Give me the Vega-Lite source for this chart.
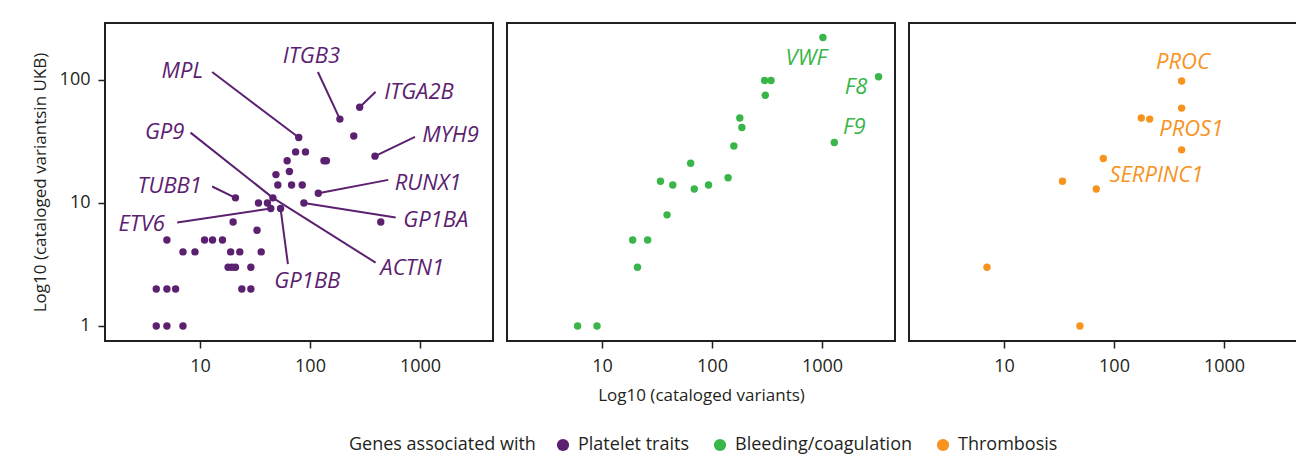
{
  "$schema": "https://vega.github.io/schema/vega-lite/v6.json",
  "padding": {"left": 30, "top": 22, "right": 3, "bottom": 5},
  "autosize": {"type": "pad"},
  "background": "white",
  "datasets": {
    "points": [
      {"group": "Platelet traits", "cat": 79, "ukb": 34},
      {"group": "Platelet traits", "cat": 187, "ukb": 48},
      {"group": "Platelet traits", "cat": 283, "ukb": 60},
      {"group": "Platelet traits", "cat": 250, "ukb": 35},
      {"group": "Platelet traits", "cat": 390, "ukb": 24},
      {"group": "Platelet traits", "cat": 74, "ukb": 26},
      {"group": "Platelet traits", "cat": 91, "ukb": 26},
      {"group": "Platelet traits", "cat": 134, "ukb": 22},
      {"group": "Platelet traits", "cat": 141, "ukb": 22},
      {"group": "Platelet traits", "cat": 62, "ukb": 22},
      {"group": "Platelet traits", "cat": 65, "ukb": 18},
      {"group": "Platelet traits", "cat": 49, "ukb": 17},
      {"group": "Platelet traits", "cat": 51, "ukb": 14},
      {"group": "Platelet traits", "cat": 68, "ukb": 14},
      {"group": "Platelet traits", "cat": 85, "ukb": 14},
      {"group": "Platelet traits", "cat": 119, "ukb": 12},
      {"group": "Platelet traits", "cat": 21, "ukb": 11},
      {"group": "Platelet traits", "cat": 46, "ukb": 11},
      {"group": "Platelet traits", "cat": 34, "ukb": 10},
      {"group": "Platelet traits", "cat": 41, "ukb": 10},
      {"group": "Platelet traits", "cat": 88, "ukb": 10},
      {"group": "Platelet traits", "cat": 44, "ukb": 9},
      {"group": "Platelet traits", "cat": 54, "ukb": 9},
      {"group": "Platelet traits", "cat": 440, "ukb": 7},
      {"group": "Platelet traits", "cat": 20, "ukb": 7},
      {"group": "Platelet traits", "cat": 33, "ukb": 6},
      {"group": "Platelet traits", "cat": 5, "ukb": 5},
      {"group": "Platelet traits", "cat": 11, "ukb": 5},
      {"group": "Platelet traits", "cat": 13, "ukb": 5},
      {"group": "Platelet traits", "cat": 16, "ukb": 5},
      {"group": "Platelet traits", "cat": 7, "ukb": 4},
      {"group": "Platelet traits", "cat": 9, "ukb": 4},
      {"group": "Platelet traits", "cat": 19, "ukb": 4},
      {"group": "Platelet traits", "cat": 23, "ukb": 4},
      {"group": "Platelet traits", "cat": 36, "ukb": 4},
      {"group": "Platelet traits", "cat": 18, "ukb": 3},
      {"group": "Platelet traits", "cat": 19.5, "ukb": 3},
      {"group": "Platelet traits", "cat": 21, "ukb": 3},
      {"group": "Platelet traits", "cat": 29, "ukb": 3},
      {"group": "Platelet traits", "cat": 4, "ukb": 2},
      {"group": "Platelet traits", "cat": 5, "ukb": 2},
      {"group": "Platelet traits", "cat": 6, "ukb": 2},
      {"group": "Platelet traits", "cat": 24, "ukb": 2},
      {"group": "Platelet traits", "cat": 29, "ukb": 2},
      {"group": "Platelet traits", "cat": 4, "ukb": 1},
      {"group": "Platelet traits", "cat": 5, "ukb": 1},
      {"group": "Platelet traits", "cat": 7, "ukb": 1},
      {"group": "Bleeding/coagulation", "cat": 1020, "ukb": 221},
      {"group": "Bleeding/coagulation", "cat": 3270, "ukb": 106},
      {"group": "Bleeding/coagulation", "cat": 1295, "ukb": 31},
      {"group": "Bleeding/coagulation", "cat": 301, "ukb": 99},
      {"group": "Bleeding/coagulation", "cat": 344, "ukb": 99},
      {"group": "Bleeding/coagulation", "cat": 305, "ukb": 75},
      {"group": "Bleeding/coagulation", "cat": 179, "ukb": 49},
      {"group": "Bleeding/coagulation", "cat": 187, "ukb": 41},
      {"group": "Bleeding/coagulation", "cat": 158, "ukb": 29},
      {"group": "Bleeding/coagulation", "cat": 64, "ukb": 21},
      {"group": "Bleeding/coagulation", "cat": 34, "ukb": 15},
      {"group": "Bleeding/coagulation", "cat": 44, "ukb": 14},
      {"group": "Bleeding/coagulation", "cat": 69, "ukb": 13},
      {"group": "Bleeding/coagulation", "cat": 93, "ukb": 14},
      {"group": "Bleeding/coagulation", "cat": 140, "ukb": 16},
      {"group": "Bleeding/coagulation", "cat": 39, "ukb": 8},
      {"group": "Bleeding/coagulation", "cat": 19, "ukb": 5},
      {"group": "Bleeding/coagulation", "cat": 26, "ukb": 5},
      {"group": "Bleeding/coagulation", "cat": 21, "ukb": 3},
      {"group": "Bleeding/coagulation", "cat": 6, "ukb": 1},
      {"group": "Bleeding/coagulation", "cat": 9, "ukb": 1},
      {"group": "Thrombosis", "cat": 412, "ukb": 98},
      {"group": "Thrombosis", "cat": 412, "ukb": 59},
      {"group": "Thrombosis", "cat": 177, "ukb": 49},
      {"group": "Thrombosis", "cat": 211, "ukb": 48},
      {"group": "Thrombosis", "cat": 412, "ukb": 27},
      {"group": "Thrombosis", "cat": 80, "ukb": 23},
      {"group": "Thrombosis", "cat": 34, "ukb": 15},
      {"group": "Thrombosis", "cat": 69, "ukb": 13},
      {"group": "Thrombosis", "cat": 7, "ukb": 3},
      {"group": "Thrombosis", "cat": 49, "ukb": 1}
    ],
    "labels": [
      {"group": "Platelet traits", "gene": "ITGB3", "lx": 103, "ly": 155, "sx": 118, "sy": 116, "ex": 187, "ey": 48},
      {"group": "Platelet traits", "gene": "ITGA2B", "lx": 979, "ly": 79, "sx": 395, "sy": 80, "ex": 283, "ey": 60},
      {"group": "Platelet traits", "gene": "MPL", "lx": 6.9, "ly": 118, "sx": 12.9, "sy": 116, "ex": 79, "ey": 34},
      {"group": "Platelet traits", "gene": "MYH9", "lx": 1900, "ly": 35.5, "sx": 901, "sy": 34.4, "ex": 390, "ey": 24},
      {"group": "Platelet traits", "gene": "GP9", "lx": 4.77, "ly": 38, "sx": 8.2, "sy": 37.3, "ex": 46, "ey": 11},
      {"group": "Platelet traits", "gene": "TUBB1", "lx": 5.3, "ly": 13.7, "sx": 12.9, "sy": 13.6, "ex": 21, "ey": 11},
      {"group": "Platelet traits", "gene": "RUNX1", "lx": 1183, "ly": 14.6, "sx": 515, "sy": 15.4, "ex": 119, "ey": 12},
      {"group": "Platelet traits", "gene": "ETV6", "lx": 2.95, "ly": 6.7, "sx": 6.2, "sy": 6.92, "ex": 44, "ey": 9},
      {"group": "Platelet traits", "gene": "GP1BA", "lx": 1390, "ly": 7.2, "sx": 601, "sy": 7.6, "ex": 88, "ey": 10},
      {"group": "Platelet traits", "gene": "GP1BB", "lx": 94.6, "ly": 2.32, "sx": 63, "sy": 3.18, "ex": 54, "ey": 9},
      {"group": "Platelet traits", "gene": "ACTN1", "lx": 851, "ly": 2.98, "sx": 395, "sy": 3.27, "ex": 46, "ey": 11},
      {"group": "Bleeding/coagulation", "gene": "VWF", "lx": 719, "ly": 150},
      {"group": "Bleeding/coagulation", "gene": "F8", "lx": 2040, "ly": 88.3},
      {"group": "Bleeding/coagulation", "gene": "F9", "lx": 1970, "ly": 41.5},
      {"group": "Thrombosis", "gene": "PROC", "lx": 424, "ly": 141},
      {"group": "Thrombosis", "gene": "PROS1", "lx": 504, "ly": 39.7},
      {"group": "Thrombosis", "gene": "SERPINC1", "lx": 243, "ly": 16.8}
    ]
  },
  "config": {
    "font": "Open Sans",
    "view": {"stroke": "#231f20", "strokeWidth": 2},
    "axis": {
      "domain": false, "grid": false, "ticks": true,
      "tickColor": "#231f20", "tickWidth": 1.5, "tickSize": 7,
      "labelFont": "Open Sans", "labelFontSize": 18, "labelColor": "#231f20",
      "titleFont": "Open Sans", "titleFontSize": 17, "titleFontWeight": "normal", "titleColor": "#231f20"
    },
    "legend": {
      "titleFont": "Open Sans", "titleFontSize": 18, "titleFontWeight": "normal", "titleColor": "#231f20", "titleLimit": 400,
      "labelFont": "Open Sans", "labelFontSize": 18, "labelColor": "#231f20", "labelLimit": 400,
      "symbolSize": 150, "symbolType": "circle", "symbolStrokeWidth": 0,
      "labelOffset": 6, "columnPadding": 22, "titlePadding": 18
    },
    "concat": {"spacing": 12}
  },
  "hconcat": [
    {
      "width": 388, "height": 318,
      "layer": [
        {
          "data": {"name": "points"},
          "transform": [{"filter": "datum.group === 'Platelet traits'"}],
          "mark": {"type": "circle", "size": 55, "opacity": 1},
          "encoding": {
            "x": {"field": "cat", "type": "quantitative", "scale": {"type": "log", "domain": [1.368, 4613], "nice": false}, "axis": {"values": [10, 100, 1000], "format": "d", "title": null, "labelPadding": 9}},
            "y": {"field": "ukb", "type": "quantitative", "scale": {"type": "log", "domain": [0.755, 290], "nice": false}, "axis": {"values": [1, 10, 100], "format": "d", "title": "Log10 (cataloged variantsin UKB)", "labelPadding": 8, "titlePadding": 10}},
            "color": {"field": "group", "type": "nominal", "scale": {"domain": ["Platelet traits", "Bleeding/coagulation", "Thrombosis"], "range": ["#5b2170", "#3ab54a", "#f7931e"]}, "legend": {"title": "Genes associated with", "orient": "none", "direction": "horizontal", "titleOrient": "left", "legendX": 244, "legendY": 413}}
          }
        },
        {
          "data": {"name": "labels"},
          "transform": [{"filter": "datum.group === 'Platelet traits' && isValid(datum.sx)"}],
          "mark": {"type": "rule", "strokeWidth": 2, "color": "#5b2170"},
          "encoding": {
            "x": {"field": "sx", "type": "quantitative"},
            "y": {"field": "sy", "type": "quantitative"},
            "x2": {"field": "ex"},
            "y2": {"field": "ey"}
          }
        },
        {
          "data": {"name": "labels"},
          "transform": [{"filter": "datum.group === 'Platelet traits'"}],
          "mark": {"type": "text", "fontStyle": "italic", "fontSize": 22, "font": "Open Sans", "align": "center", "baseline": "middle", "color": "#5b2170"},
          "encoding": {
            "x": {"field": "lx", "type": "quantitative"},
            "y": {"field": "ly", "type": "quantitative"},
            "text": {"field": "gene"}
          }
        }
      ]
    },
    {
      "width": 388, "height": 318,
      "layer": [
        {
          "data": {"name": "points"},
          "transform": [{"filter": "datum.group === 'Bleeding/coagulation'"}],
          "mark": {"type": "circle", "size": 55, "opacity": 1},
          "encoding": {
            "x": {"field": "cat", "type": "quantitative", "scale": {"type": "log", "domain": [1.368, 4613], "nice": false}, "axis": {"values": [10, 100, 1000], "format": "d", "title": "Log10 (cataloged variants)", "labelPadding": 9, "titlePadding": 12}},
            "y": {"field": "ukb", "type": "quantitative", "scale": {"type": "log", "domain": [0.755, 290], "nice": false}, "axis": null},
            "color": {"field": "group", "type": "nominal"}
          }
        },
        {
          "data": {"name": "labels"},
          "transform": [{"filter": "datum.group === 'Bleeding/coagulation'"}],
          "mark": {"type": "text", "fontStyle": "italic", "fontSize": 22, "font": "Open Sans", "align": "center", "baseline": "middle", "color": "#3ab54a"},
          "encoding": {
            "x": {"field": "lx", "type": "quantitative"},
            "y": {"field": "ly", "type": "quantitative"},
            "text": {"field": "gene"}
          }
        }
      ]
    },
    {
      "width": 388, "height": 318,
      "layer": [
        {
          "data": {"name": "points"},
          "transform": [{"filter": "datum.group === 'Thrombosis'"}],
          "mark": {"type": "circle", "size": 55, "opacity": 1},
          "encoding": {
            "x": {"field": "cat", "type": "quantitative", "scale": {"type": "log", "domain": [1.368, 4613], "nice": false}, "axis": {"values": [10, 100, 1000], "format": "d", "title": null, "labelPadding": 9}},
            "y": {"field": "ukb", "type": "quantitative", "scale": {"type": "log", "domain": [0.755, 290], "nice": false}, "axis": null},
            "color": {"field": "group", "type": "nominal"}
          }
        },
        {
          "data": {"name": "labels"},
          "transform": [{"filter": "datum.group === 'Thrombosis'"}],
          "mark": {"type": "text", "fontStyle": "italic", "fontSize": 22, "font": "Open Sans", "align": "center", "baseline": "middle", "color": "#f7931e"},
          "encoding": {
            "x": {"field": "lx", "type": "quantitative"},
            "y": {"field": "ly", "type": "quantitative"},
            "text": {"field": "gene"}
          }
        }
      ]
    }
  ]
}
